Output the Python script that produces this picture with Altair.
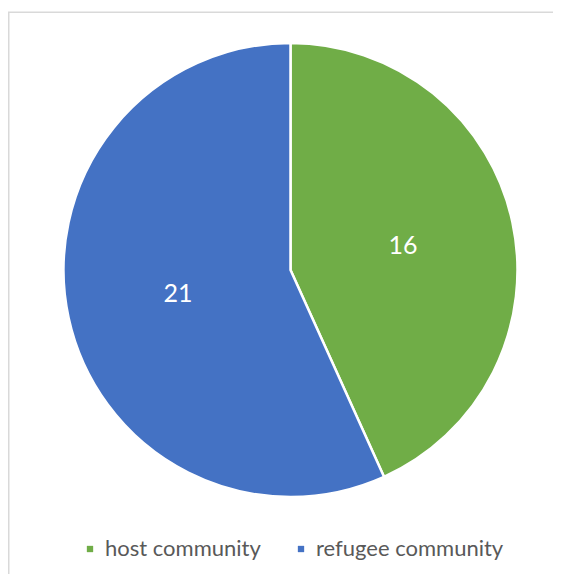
import altair as alt
import pandas as pd

groups = ["host community", "refugee community"]
counts = [16, 21]
colors = ["#70AD47", "#4472C4"]
order_idx = [0, 1]

df = pd.DataFrame({"group": groups, "count": counts, "idx": order_idx})

CX, CY = 282.5, 262

base = alt.Chart(df).encode(
    theta=alt.Theta("count:Q", stack=True),
    order=alt.Order("idx:Q"),
)

pie = base.mark_arc(outerRadius=227, stroke="white", strokeWidth=2.5).encode(
    x=alt.value(CX),
    y=alt.value(CY),
    color=alt.Color(
        "group:N",
        scale=alt.Scale(domain=groups, range=colors),
        legend=alt.Legend(
            title=None,
            orient="none",
            legendX=71,
            legendY=530,
            direction="horizontal",
            symbolType="square",
            symbolSize=40,
            symbolStrokeWidth=0,
            labelFontSize=22,
            labelFont="Lato",
            labelColor="#595959",
            labelOffset=4,
            labelLimit=400,
            columnPadding=29,
            padding=0,
        ),
    ),
)

labels = base.mark_text(radius=115, fontSize=25, font="Lato", baseline="middle", align="center").encode(
    x=alt.value(CX),
    y=alt.value(CY),
    text="count:Q",
    color=alt.value("white"),
)

border = alt.Chart(pd.DataFrame({"a": [0]})).mark_rect(
    fill="transparent", stroke="#D9D9D9", strokeWidth=1.5
).encode(
    x=alt.value(0.75), x2=alt.value(700), y=alt.value(4.25), y2=alt.value(700)
)

chart = alt.layer(border, pie, labels).properties(
    width=545, height=566, padding=0, autosize="none"
).configure_view(strokeWidth=0)

chart.save("out.html", embed_options={"renderer": "svg", "actions": False})
